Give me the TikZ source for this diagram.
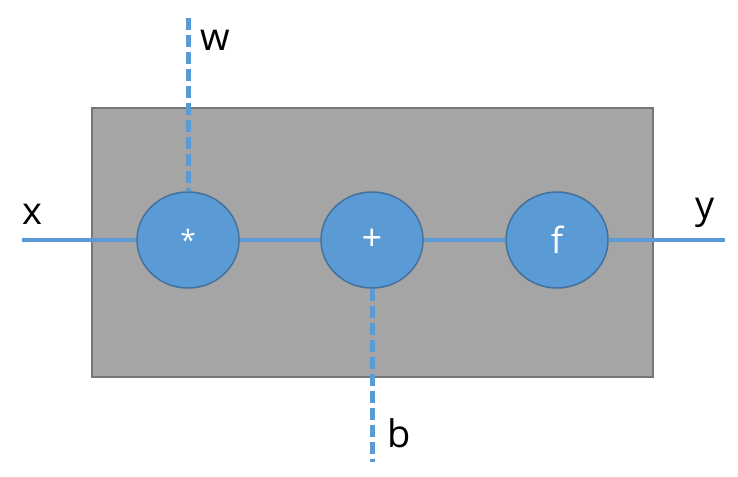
\documentclass[tikz,border=0pt]{standalone}
\usepackage{fontspec}
\setmainfont{Open Sans}
\usetikzlibrary{positioning,shapes.geometric}
\definecolor{wire}{RGB}{91,155,213}
\definecolor{wireedge}{RGB}{65,113,156}
\definecolor{boxfill}{RGB}{165,165,165}
\definecolor{boxedge}{RGB}{118,118,118}
\begin{document}
\begin{tikzpicture}[
  x=1pt,y=-1pt,
  unit/.style={ellipse,draw=wireedge,fill=wire,line width=1.5pt,minimum width=102pt,minimum height=96pt,inner sep=0pt,text=white,font=\fontsize{36}{38}\selectfont},
  lbl/.style={font=\fontsize{38}{40}\selectfont,inner sep=0pt},
  flow/.style={wire,line width=4.5pt},
  dflow/.style={wire,line width=5pt,dash pattern=on 12pt off 5pt},
]
\useasboundingbox (0,0) rectangle (738,476);
% ---- neuron body ----
\node[draw=boxedge,fill=boxfill,line width=1.5pt,minimum width=561pt,minimum height=269pt,inner sep=0pt] (body) at (372.5,242.5) {};
% ---- wire ends ----
\coordinate (xin) at (22,240);
\coordinate (yout) at (725,240);
\coordinate (win) at (188,18);
\coordinate (bin) at (372,462);
% ---- operations ----
\node[unit,font=\fontsize{28}{30}\selectfont] (mul) at (188,240) {*};
\node[unit] (add) at (372,240) {+};
\node[unit] (act) at (557,240) {f};
\draw[flow] (xin) -- (mul);
\draw[flow] (mul) -- (add);
\draw[flow] (add) -- (act);
\draw[flow] (act) -- (yout);
\draw[dflow] (win) -- (mul.north);
\draw[dflow] (add.south) -- (bin);
% ---- labels ----
\node[lbl] (xlbl) at (32,214) {x};
\node[lbl] (wlbl) at (215,40) {w};
\node[lbl] (ylbl) at (705,213) {y};
\node[lbl] (blbl) at (399,433) {b};
\end{tikzpicture}
\end{document}
